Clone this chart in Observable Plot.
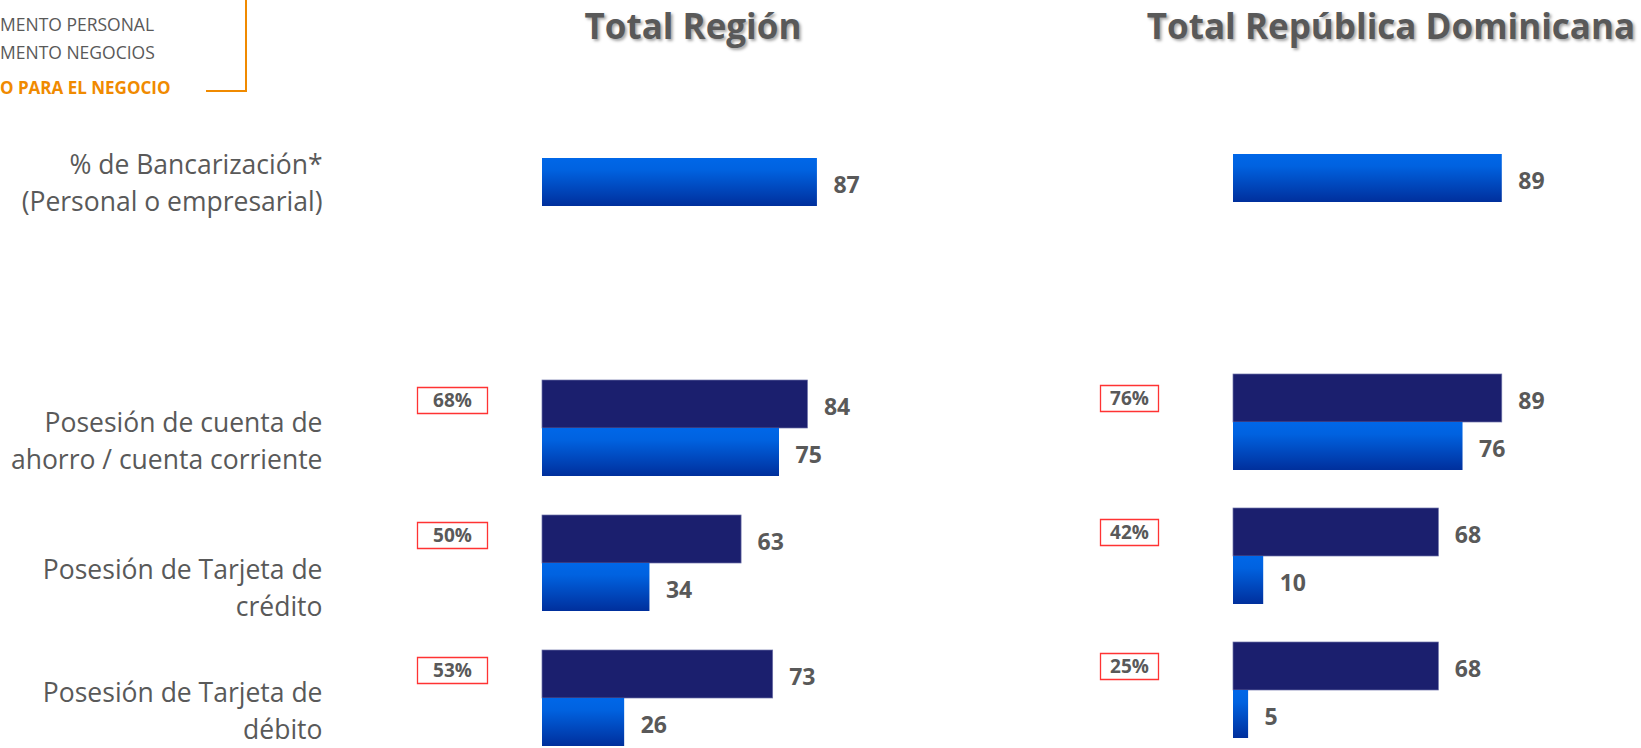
<!DOCTYPE html>
<html><head><meta charset="utf-8">
<script src="https://cdn.jsdelivr.net/npm/d3@7"></script>
<script src="https://cdn.jsdelivr.net/npm/@observablehq/plot@0.6"></script>
<style>
body{margin:0;background:#fff;font-family:"Open Sans",sans-serif;}
#wrap{position:relative;width:1641px;height:748px;overflow:hidden;background:#fff;}
#panels{position:absolute;left:0;top:0;display:flex;}
#panels svg{display:block;}
.title{position:absolute;top:3px;font-size:35px;line-height:46px;font-weight:700;color:#595959;text-shadow:2px 2px 3px rgba(0,0,0,0.35);white-space:nowrap;transform:translateX(-50%);}
.leg{position:absolute;left:0;font-size:17.5px;line-height:22px;color:#595959;white-space:nowrap;}
.leg.hi{font-weight:700;color:#F08A00;font-size:17px;}
.vline{position:absolute;left:245px;top:0;width:2px;height:92px;background:#F08A00;}
.hline{position:absolute;left:206px;top:90px;width:41px;height:2px;background:#F08A00;}
</style></head><body>
<div id="wrap">
  <div id="panels"></div>
  <div class="title" style="left:693px">Total Región</div>
  <div class="title" style="left:1391px">Total República Dominicana</div>
  <div class="leg" style="top:13px">MENTO PERSONAL</div>
  <div class="leg" style="top:41px">MENTO NEGOCIOS</div>
  <div class="leg hi" style="top:77px">O PARA EL NEGOCIO</div>
  <div class="vline"></div>
  <div class="hline"></div>
</div>
<script>
// ---- data ----
const categories = [
  "% de Bancarización*\n(Personal o empresarial)",
  "Posesión de cuenta de\nahorro / cuenta corriente",
  "Posesión de Tarjeta de\ncrédito",
  "Posesión de Tarjeta de\ndébito"
];
const series = ["Negocios", "Personal"];
const regionNegocios = [null, 84, 63, 73];
const regionPersonal = [87, 75, 34, 26];
const regionUso = [null, 68, 50, 53];
const rdNegocios = [null, 89, 68, 68];
const rdPersonal = [89, 76, 10, 5];
const rdUso = [null, 76, 42, 25];

const spacer = "spacer";
const fyDomain = [categories[0], spacer, categories[1], categories[2], categories[3]];

function buildRows(neg, per) {
  const rows = [];
  categories.forEach((c, i) => {
    if (neg[i] != null) rows.push({cat: c, series: series[0], value: neg[i]});
    if (per[i] != null) rows.push({cat: c, series: series[1], value: per[i]});
  });
  return rows;
}
function buildUso(uso) {
  return categories.map((c, i) => ({cat: c, series: series[0], uso: uso[i]})).filter(d => d.uso != null);
}

const NAVY = "#1b1f6e";
const GRAY = "#595959";

function panel(opts) {
  const {neg, per, uso, width, marginLeft, marginRight, marginTop, marginBottom, labels, boxW, boxDx, boxDy, gradId} = opts;
  const rows = buildRows(neg, per);
  const usoRows = buildUso(uso);
  const box = {draw(ctx) { ctx.rect(-boxW / 2, -13, boxW, 26); }};
  const marks = [
    Plot.barX(rows.filter(d => d.series === series[0]), {fy: "cat", y: "series", x: "value", fill: NAVY, stroke: "#6d71a8", strokeWidth: 0.7}),
    Plot.barX(rows.filter(d => d.series === series[1]), {fy: "cat", y: "series", x: "value", fill: `url(#${gradId})`}),
    Plot.text(rows, {fy: "cat", y: "series", x: "value", text: d => String(d.value), textAnchor: "start", dx: 16, dy: 3, fontSize: 23, fontWeight: 700, fill: GRAY}),
    Plot.dot(usoRows, {fy: "cat", y: "series", frameAnchor: "left", dx: boxDx, dy: boxDy, symbol: box, fill: "white", stroke: "#ff3333", strokeWidth: 1.3}),
    Plot.text(usoRows, {fy: "cat", y: "series", frameAnchor: "left", dx: boxDx, dy: boxDy, textAnchor: "middle", text: d => d.uso + "%", fontSize: 19, fontWeight: 700, fill: GRAY})
  ];
  if (labels) {
    const labelRows = categories.map((c, i) => ({cat: c, i}));
    const labelOpts = {fy: "cat", frameAnchor: "left", textAnchor: "end", dx: -220, text: "cat", fontSize: 26.5, lineHeight: 1.37, fill: GRAY, fontWeight: 400};
    marks.push(Plot.text(labelRows.filter(d => d.i % 2 === 1), {...labelOpts, dy: 11}));
    marks.push(Plot.text(labelRows.filter(d => d.i % 2 === 0), {...labelOpts, dy: 23}));
  }
  const chart = Plot.plot({
    width, height: 748, marginLeft, marginRight, marginTop, marginBottom,
    style: {fontFamily: "Open Sans", background: "transparent", overflow: "visible"},
    x: {domain: [0, 100], axis: null},
    y: {domain: series, padding: 0, axis: null},
    fy: {domain: fyDomain, paddingInner: 38 / 135, paddingOuter: 0, axis: null},
    marks
  });
  const defs = d3.select(chart).insert("defs", ":first-child");
  const g = defs.append("linearGradient").attr("id", gradId).attr("x1", 0).attr("y1", 0).attr("x2", 0).attr("y2", 1);
  g.append("stop").attr("offset", "0%").attr("stop-color", "#0067e8");
  g.append("stop").attr("offset", "25%").attr("stop-color", "#0062e0");
  g.append("stop").attr("offset", "100%").attr("stop-color", "#002f9c");
  return chart;
}

const left = panel({neg: regionNegocios, per: regionPersonal, uso: regionUso, width: 1000, marginLeft: 542, marginRight: 142, marginTop: 109, marginBottom: 2, labels: true, boxW: 70, boxDx: -90, boxDy: -4, gradId: "gradRegion"});
const right = panel({neg: rdNegocios, per: rdPersonal, uso: rdUso, width: 641, marginLeft: 233, marginRight: 106, marginTop: 104, marginBottom: 8, labels: false, boxW: 58, boxDx: -104, boxDy: 0, gradId: "gradRD"});
document.getElementById("panels").append(left, right);
</script>
</body></html>
